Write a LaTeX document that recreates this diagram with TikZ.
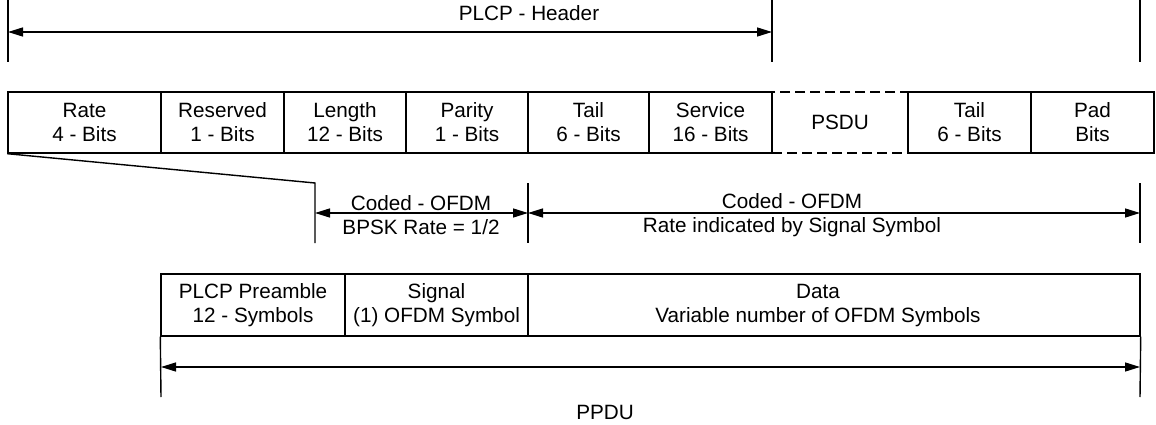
\documentclass[tikz,border=0pt]{standalone}
\usepackage{fontspec}
\setmainfont{Liberation Sans}
\usetikzlibrary{positioning}
\usetikzlibrary{arrows.meta}
\tikzstyle{field}=[draw,line width=1.4pt,inner sep=0pt,align=center,font=\fontsize{20.7}{24}\selectfont]
\tikzstyle{psdufield}=[field,line width=2.6pt,dash pattern=on 10pt off 5pt]
\tikzstyle{tick}=[draw,line width=1.4pt]
\tikzstyle{span}=[draw,line width=1.4pt,{Triangle[length=15pt,width=9pt]}-{Triangle[length=15pt,width=9pt]}]
\tikzstyle{caption}=[align=center,inner sep=0pt,font=\fontsize{20.7}{24}\selectfont]

\begin{document}
\begin{tikzpicture}[x=1pt,y=-1pt]
  \useasboundingbox (0,0) rectangle (1156,425);

   % PLCP header fields
   \foreach \pos/\w/\name/\label in {{(84.5,122.5)/153/rate/Rate\\4 - Bits}, {(222.5,122.5)/123/resv/Reserved\\1 - Bits},
        {(345,122.5)/122/len/Length\\12 - Bits}, {(467,122.5)/122/par/Parity\\1 - Bits}, {(588.5,122.5)/121/tail/Tail\\6 - Bits},
        {(710.5,122.5)/123/serv/Service\\16 - Bits}, {(969.5,122.5)/123/tailb/Tail\\6 - Bits}, {(1092.5,122.5)/123/pad/Pad\\Bits}}
        \node[field,minimum width=\w pt,minimum height=61pt] (\name) at \pos {\label};
   \node[psdufield,minimum width=136pt,minimum height=61pt] (psdu) at (840,122.5) {PSDU};

   % PPDU fields
   \foreach \pos/\w/\name/\label in {{(253,305)/184/pre/PLCP Preamble\\12 - Symbols}, {(436.5,305)/183/sig/Signal\\(1) OFDM Symbol}, {(834,305)/612/data/{}}}
        \node[field,minimum width=\w pt,minimum height=62pt] (\name) at \pos {\label};
   \node[caption] (datatext) at (818,305.5) {Data\\Variable number of OFDM Symbols};

   % header span
   \foreach \x/\name in {8/hl, 772/hm, 1140/hr}
   {
     \coordinate (\name top) at (\x,0);
     \coordinate (\name bot) at (\x,62);
     \path[tick] (\name top) -- (\name bot);
   }
   \coordinate (hdrL) at (8,32);
   \coordinate (hdrR) at (772,32);
   \path[span] (hdrL) -- (hdrR);
   \node[caption] (hdr) at (529,13) {PLCP - Header};

   % coding spans
   \coordinate (fold) at (315,183);
   \coordinate (foldbot) at (315,243);
   \path[tick] (rate.south west) -- (fold) -- (foldbot);
   \foreach \x/\name in {528/cm, 1140/cr}
   {
     \coordinate (\name top) at (\x,183);
     \coordinate (\name bot) at (\x,243);
     \path[tick] (\name top) -- (\name bot);
   }
   \coordinate (codeL) at (315,213);
   \coordinate (codeM) at (528,213);
   \coordinate (codeR) at (1140,213);
   \path[span] (codeL) -- (codeM);
   \path[span] (codeM) -- (codeR);
   \node[caption] (bpsk) at (421,215) {Coded - OFDM\\BPSK Rate = 1/2};
   \node[caption] (rateind) at (792,215) {Coded - OFDM\\Rate indicated by Signal Symbol};

   % PPDU span
   \coordinate (ppduLb) at (161,397);
   \coordinate (ppduRb) at (1140,397);
   \path[tick] (pre.south west) -- (ppduLb);
   \path[tick] (data.south east) -- (ppduRb);
   \coordinate (ppduL) at (161,367);
   \coordinate (ppduR) at (1140,367);
   \path[span] (ppduL) -- (ppduR);
   \node[caption] (ppdu) at (605,412.5) {PPDU};

\end{tikzpicture}
\end{document}
